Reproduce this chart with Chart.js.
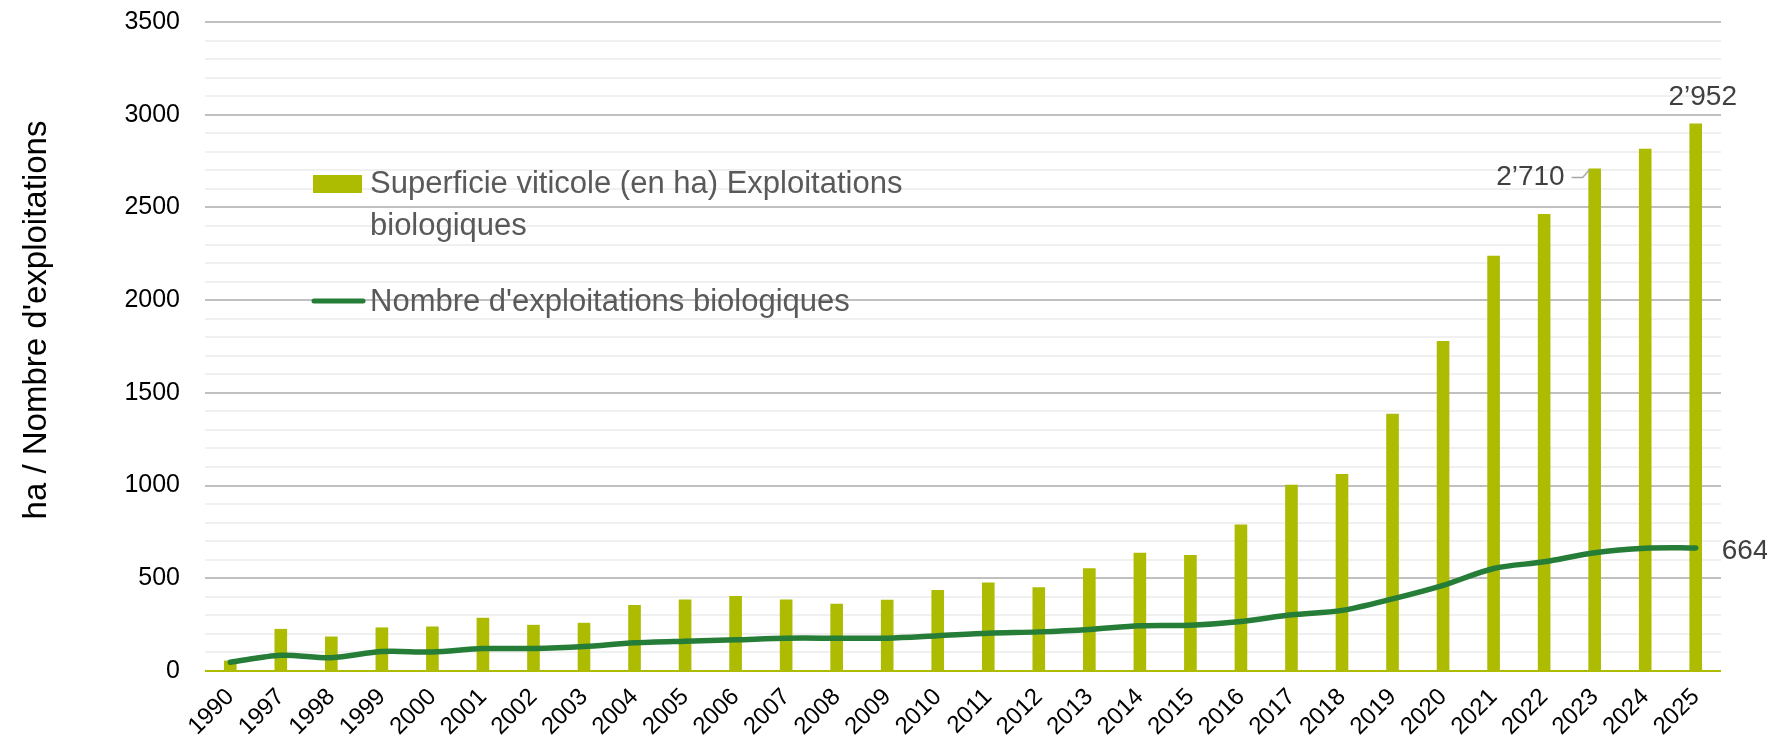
<!DOCTYPE html>
<html>
<head>
<meta charset="utf-8">
<title>Viticulture biologique</title>
<script src="https://cdn.jsdelivr.net/npm/chart.js@4"></script>
<style>
  html, body { margin: 0; padding: 0; background: #fff; }
</style>
</head>
<body>
<canvas id="chart" width="1767" height="748"></canvas>
<script>
  // categories
  const years = ['1990', '1997', '1998', '1999', '2000', '2001', '2002', '2003', '2004', '2005',
    '2006', '2007', '2008', '2009', '2010', '2011', '2012', '2013', '2014', '2015',
    '2016', '2017', '2018', '2019', '2020', '2021', '2022', '2023', '2024', '2025'];

  // Superficie viticole (en ha) Exploitations biologiques
  const surfaceHa = [56, 227, 186, 235, 240, 287, 249, 260, 356, 386,
    404, 386, 363, 384, 437, 477, 451, 554, 638, 626,
    790, 1004, 1063, 1387, 1780, 2240, 2465, 2710, 2816, 2952];

  // Nombre d'exploitations biologiques
  const farms = [47, 85, 72, 105, 103, 121, 121, 132, 152, 161,
    168, 177, 177, 177, 190, 204, 211, 224, 244, 247,
    267, 303, 327, 389, 462, 553, 589, 638, 662, 664];

  // which values get a label
  const labelledBars = ['2023', '2025'];
  const labelledPoints = ['2025'];

  // y axis ticks
  const yMin = 0;
  const yMax = 3500;
  const yMajorStep = 500;
  const yMinorStep = 100;
  const yTitle = "ha / Nombre d'exploitations";

  const BAR_COLOR = '#adbc00';
  const LINE_COLOR = '#267d38';
  const FONT = '"Liberation Sans", Arial, sans-serif';

  Chart.defaults.font.family = FONT;

  function formatSwiss(v) {
    return String(v).replace(/\B(?=(\d{3})+(?!\d))/g, '\u2019');
  }

  // rotated y title, sitting a bit above the middle like the original
  const axisTitle = {
    id: 'axisTitle',
    afterDraw(chart) {
      const { ctx } = chart;
      ctx.save();
      ctx.translate(37, 320);
      ctx.rotate(-Math.PI / 2);
      ctx.font = '33px ' + FONT;
      ctx.fillStyle = '#000';
      ctx.textAlign = 'center';
      ctx.textBaseline = 'middle';
      ctx.fillText(yTitle, 0, 0);
      ctx.restore();
    }
  };

  // legend drawn inside the plot, like the original
  const innerLegend = {
    id: 'innerLegend',
    afterDatasetsDraw(chart) {
      const { ctx, chartArea } = chart;
      const x0 = chartArea.left + 108;
      ctx.save();
      ctx.fillStyle = BAR_COLOR;
      ctx.fillRect(x0, 175, 49, 18);

      ctx.strokeStyle = LINE_COLOR;
      ctx.lineWidth = 5;
      ctx.lineCap = 'round';
      ctx.beginPath();
      ctx.moveTo(x0 + 1, 301);
      ctx.lineTo(x0 + 50, 301);
      ctx.stroke();

      ctx.fillStyle = '#595959';
      ctx.font = '31px ' + FONT;
      ctx.textBaseline = 'middle';
      ctx.textAlign = 'left';
      ctx.fillText(chart.data.datasets[0].label[0], x0 + 57, 184);
      ctx.fillText(chart.data.datasets[0].label[1], x0 + 57, 226);
      ctx.fillText(chart.data.datasets[1].label, x0 + 57, 302);
      ctx.restore();
    }
  };

  // value labels on selected bars / points
  const valueLabels = {
    id: 'valueLabels',
    afterDatasetsDraw(chart) {
      const { ctx } = chart;
      const bars = chart.getDatasetMeta(0).data;
      const pts = chart.getDatasetMeta(1).data;
      const last = years.length - 1;
      ctx.save();
      ctx.font = '28px ' + FONT;
      ctx.fillStyle = '#404040';
      ctx.textBaseline = 'middle';

      labelledBars.forEach(year => {
        const i = years.indexOf(year);
        const bar = bars[i];
        const txt = formatSwiss(surfaceHa[i]);
        if (i === last) {
          ctx.textAlign = 'center';
          ctx.fillText(txt, bar.x + 7, bar.y - 26);
        } else {
          ctx.textAlign = 'right';
          ctx.fillText(txt, bar.x - 30, bar.y + 9);
          // leader line
          ctx.strokeStyle = '#a6a6a6';
          ctx.lineWidth = 1.5;
          ctx.beginPath();
          ctx.moveTo(bar.x - 23, bar.y + 9);
          ctx.lineTo(bar.x - 12, bar.y + 9);
          ctx.lineTo(bar.x - 5, bar.y + 1);
          ctx.stroke();
        }
      });

      labelledPoints.forEach(year => {
        const i = years.indexOf(year);
        const pt = pts[i];
        ctx.textAlign = 'left';
        ctx.fillText(formatSwiss(farms[i]), pt.x + 26, pt.y + 3);
      });
      ctx.restore();
    }
  };

  const ctx = document.getElementById('chart').getContext('2d');
  new Chart(ctx, {
    type: 'bar',
    data: {
      labels: years,
      datasets: [
        {
          label: ['Superficie viticole (en ha) Exploitations', 'biologiques'],
          data: surfaceHa,
          backgroundColor: BAR_COLOR,
          barPercentage: 0.25,
          categoryPercentage: 1.0,
          order: 2
        },
        {
          type: 'line',
          label: "Nombre d'exploitations biologiques",
          data: farms,
          borderColor: LINE_COLOR,
          borderWidth: 5.5,
          tension: 0.3,
          pointRadius: 0,
          borderCapStyle: 'round',
          borderJoinStyle: 'round',
          order: 1
        }
      ]
    },
    options: {
      responsive: false,
      devicePixelRatio: 1,
      animation: false,
      layout: {
        padding: { top: 22, right: 46, bottom: 0, left: 0 }
      },
      plugins: {
        legend: { display: false },
        tooltip: { enabled: false }
      },
      scales: {
        x: {
          grid: { display: false, drawTicks: false },
          border: { display: false },
          ticks: {
            color: '#000',
            font: { size: 24 },
            minRotation: 45,
            maxRotation: 45,
            padding: 12,
            autoSkip: false
          },
          // fixed band below the plot
          afterFit: scale => {
            scale.height = 77;
            scale.paddingLeft = 0;
            scale.paddingRight = 0;
          }
        },
        y: {
          min: yMin,
          max: yMax,
          border: { display: false },
          grid: {
            drawTicks: false,
            lineWidth: 2,
            color: c => {
              const v = c.tick.value;
              if (v === 0) return BAR_COLOR;
              return v % yMajorStep === 0 ? '#c0c0c0' : '#f0f0f0';
            }
          },
          ticks: {
            stepSize: yMinorStep,
            color: '#000',
            font: { size: 25 },
            padding: 25,
            autoSkip: false,
            callback: v => (v % yMajorStep === 0 ? String(v) : '')
          },
          // fixed width left of the plot, no extra top/bottom room
          afterFit: scale => {
            scale.width = 205;
            scale.paddingTop = 0;
            scale.paddingBottom = 0;
          }
        }
      }
    },
    plugins: [axisTitle, innerLegend, valueLabels]
  });
</script>
</body>
</html>
